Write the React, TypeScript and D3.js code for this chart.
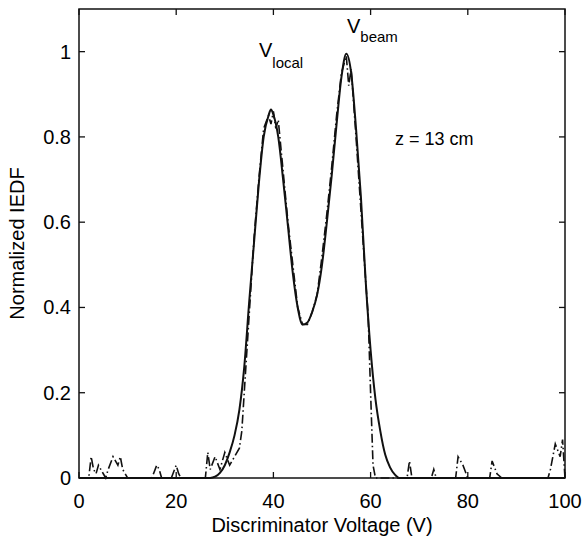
import React, { useEffect, useRef } from 'react';
import * as d3 from 'd3';

// fitted curve (solid line)
const fitVoltage = [0, 27, 28, 29, 30, 31, 32, 33, 34, 35, 36, 37, 38, 39, 39.5, 40, 41, 42, 43, 44, 45, 46, 47, 48, 49, 50, 51, 52, 53, 54, 55, 56, 57, 58, 59, 60, 61, 62, 63, 64, 65, 66, 100];
const fitIEDF = [0, 0, 0.003, 0.012, 0.03, 0.06, 0.1, 0.16, 0.26, 0.41, 0.55, 0.69, 0.8, 0.85, 0.864, 0.852, 0.8, 0.7, 0.59, 0.48, 0.4, 0.36, 0.365, 0.39, 0.43, 0.5, 0.6, 0.71, 0.83, 0.94, 0.995, 0.95, 0.82, 0.66, 0.46, 0.3, 0.185, 0.11, 0.055, 0.025, 0.008, 0, 0];

// measured data (dash-dot line)
const dataVoltage = [0, 1, 2, 2.5, 3, 3.5, 4, 5, 5.5, 6, 7, 8, 8.5, 9, 10, 15, 16, 16.5, 17, 19, 20, 20.5, 21, 26, 26.5, 27, 28, 29, 30, 31, 32, 33, 33.5, 34, 35, 36, 37, 38, 39, 39.5, 40, 40.5, 41, 42, 43, 44, 45, 46, 47, 48, 49, 50, 51, 52, 53, 54, 55, 55.5, 56, 57, 58, 59, 59.5, 60, 60.5, 61, 67.5, 68, 68.5, 72.5, 73, 73.5, 77.5, 78, 79, 80, 84.5, 85, 86, 87, 96.5, 97, 98, 99, 99.5, 100];
const dataIEDF = [0, 0, 0, 0.05, 0.02, 0.01, 0.03, 0.01, 0, 0.02, 0.05, 0.03, 0.05, 0.02, 0, 0, 0.03, 0.02, 0, 0, 0.03, 0.01, 0, 0, 0.06, 0.02, 0.05, 0.02, 0.06, 0.03, 0.05, 0.07, 0.11, 0.2, 0.38, 0.56, 0.7, 0.82, 0.85, 0.83, 0.86, 0.82, 0.84, 0.72, 0.6, 0.5, 0.4, 0.36, 0.36, 0.39, 0.43, 0.52, 0.62, 0.73, 0.85, 0.95, 0.99, 0.92, 0.96, 0.8, 0.63, 0.46, 0.38, 0.2, 0.03, 0, 0, 0.04, 0, 0, 0.02, 0, 0, 0.05, 0.03, 0, 0, 0.04, 0.01, 0, 0, 0.02, 0.08, 0.05, 0.09, 0];

const xTicks = [0, 20, 40, 60, 80, 100];
const yTicks = [0, 0.2, 0.4, 0.6, 0.8, 1];

const App = () => {
    const ref = useRef<SVGSVGElement>(null);

    useEffect(() => {
        const svg = d3.select(ref.current);
        svg.selectAll('*').remove();

        const left = 79, right = 565, top = 9, bottom = 478;
        const x = d3.scaleLinear().domain([0, 100]).range([left, right]);
        const y = d3.scaleLinear().domain([0, 1.1]).range([bottom, top]);
        const font = 'Liberation Sans, Arial, Helvetica, sans-serif';

        // measured curve
        const line = d3.line<number>()
            .x((d, i) => x(dataVoltage[i]))
            .y(d => y(d));
        svg.append('path')
            .datum(dataIEDF)
            .attr('fill', 'none')
            .attr('stroke', '#111')
            .attr('stroke-width', 1.6)
            .attr('stroke-dasharray', '9,3,1.5,3')
            .attr('d', line);

        // fitted curve
        const fit = d3.line<number>()
            .x((d, i) => x(fitVoltage[i]))
            .y(d => y(d))
            .curve(d3.curveMonotoneX);
        svg.append('path')
            .datum(fitIEDF)
            .attr('fill', 'none')
            .attr('stroke', '#111')
            .attr('stroke-width', 2)
            .attr('d', fit);

        // box + inward ticks on all four sides
        svg.append('rect')
            .attr('x', left).attr('y', top)
            .attr('width', right - left).attr('height', bottom - top)
            .attr('fill', 'none').attr('stroke', '#111').attr('stroke-width', 1.5);

        const tickLen = 6;
        xTicks.forEach(t => {
            svg.append('line').attr('x1', x(t)).attr('x2', x(t)).attr('y1', bottom).attr('y2', bottom - tickLen).attr('stroke', '#111').attr('stroke-width', 1.3);
            svg.append('line').attr('x1', x(t)).attr('x2', x(t)).attr('y1', top).attr('y2', top + tickLen).attr('stroke', '#111').attr('stroke-width', 1.3);
            svg.append('text')
                .attr('x', x(t)).attr('y', 508)
                .attr('text-anchor', 'middle')
                .style('font-family', font).style('font-size', '20px')
                .text(t);
        });
        yTicks.forEach(t => {
            svg.append('line').attr('x1', left).attr('x2', left + tickLen).attr('y1', y(t)).attr('y2', y(t)).attr('stroke', '#111').attr('stroke-width', 1.3);
            svg.append('line').attr('x1', right).attr('x2', right - tickLen).attr('y1', y(t)).attr('y2', y(t)).attr('stroke', '#111').attr('stroke-width', 1.3);
            svg.append('text')
                .attr('x', 71).attr('y', y(t) + 7)
                .attr('text-anchor', 'end')
                .style('font-family', font).style('font-size', '20px')
                .text(t);
        });

        // axis labels
        svg.append('text')
            .attr('x', (left + right) / 2).attr('y', 532)
            .attr('text-anchor', 'middle')
            .style('font-family', font).style('font-size', '20px')
            .text('Discriminator Voltage (V)');
        svg.append('text')
            .attr('transform', `translate(24,${(top + bottom) / 2}) rotate(-90)`)
            .attr('text-anchor', 'middle')
            .style('font-family', font).style('font-size', '20px')
            .text('Normalized IEDF');

        // annotations
        const vLocal = svg.append('text').attr('x', 259).attr('y', 57)
            .style('font-family', font).style('font-size', '20px');
        vLocal.append('tspan').text('V');
        vLocal.append('tspan').attr('dy', 11).style('font-size', '15px').text('local');

        const vBeam = svg.append('text').attr('x', 347).attr('y', 33)
            .style('font-family', font).style('font-size', '20px');
        vBeam.append('tspan').text('V');
        vBeam.append('tspan').attr('dy', 9).style('font-size', '15px').text('beam');

        svg.append('text')
            .attr('x', 395).attr('y', 145)
            .style('font-family', font).style('font-size', '18px')
            .text('z = 13 cm');
    }, []);

    return (
        <svg ref={ref} width={584} height={542}
            style={{ position: 'absolute', left: 0, top: 0, background: '#fff' }} />
    );
};

export default App;
